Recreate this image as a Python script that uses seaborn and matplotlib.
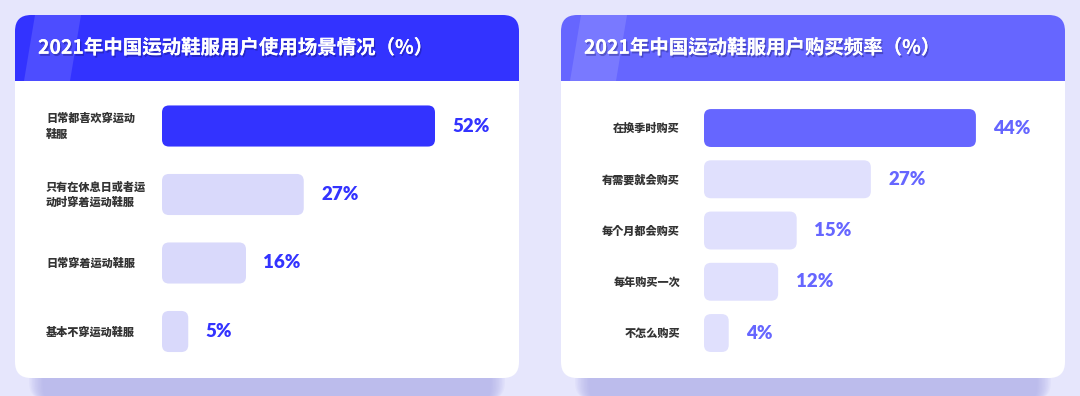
import matplotlib
matplotlib.use("Agg")
import matplotlib.pyplot as plt
import matplotlib.patheffects as pe
from matplotlib.patches import FancyBboxPatch, Rectangle, Polygon
from matplotlib.transforms import IdentityTransform
import seaborn as sns
import pandas as pd

# ---------------- data ----------------
title_left = "2021年中国运动鞋服用户使用场景情况（%）"
cats_left = ["日常都喜欢穿运动\n鞋服", "只有在休息日或者运\n动时穿着运动鞋服", "日常穿着运动鞋服", "基本不穿运动鞋服"]
vals_left = [52, 27, 16, 5]

title_right = "2021年中国运动鞋服用户购买频率（%）"
cats_right = ["在换季时购买", "有需要就会购买", "每个月都会购买", "每年购买一次", "不怎么购买"]
vals_right = [44, 27, 15, 12, 4]

# ---------------- style ----------------
sns.set_theme(style="white")
plt.rcParams['font.family'] = ['Noto Sans CJK JP', 'DejaVu Sans']
CJK = ['Noto Sans CJK JP', 'DejaVu Sans']
NUM = ['Lato', 'DejaVu Sans']

BG = "#E6E6FC"
HEAD_L, HEAD_R = "#3333FF", "#6666FF"
LIGHT_L, LIGHT_R = "#D9D9FB", "#E0E0FD"
TEXT = "#333333"

W, H = 1080, 396
fig = plt.figure(figsize=(W / 100, H / 100), dpi=100)
fig.patch.set_facecolor(BG)

bg = fig.add_axes([0, 0, 1, 1], zorder=0)
bg.set_xlim(0, W)
bg.set_ylim(H, 0)
bg.axis("off")


def card(x0, x1, y0, y1, yh, head_color):
    # soft shadow
    for i in range(10):
        bg.add_patch(FancyBboxPatch((x0 + 14 + i * 1.5, y0 + 14 + i), (x1 - x0) - 28 - 3 * i, (y1 - y0) + 8 - i * 0.5,
                                    boxstyle="round,pad=0,rounding_size=18",
                                    fc="#A8A8E6", ec="none", alpha=0.09, zorder=0.5))
    bg.add_patch(FancyBboxPatch((x0, y0), x1 - x0, y1 - y0, boxstyle="round,pad=0,rounding_size=16",
                                fc="white", ec="none", zorder=1))
    bg.add_patch(FancyBboxPatch((x0, y0), x1 - x0, (yh - y0) + 20, boxstyle="round,pad=0,rounding_size=16",
                                fc=head_color, ec="none", zorder=1.1))
    bg.add_patch(Rectangle((x0, yh), x1 - x0, 30, fc="white", ec="none", zorder=1.2))
    # glossy stripe
    bg.add_patch(Polygon([[x0 + 20, y0], [x0 + 66, y0], [x0 + 55, yh], [x0 + 9, yh]],
                         closed=True, fc="white", ec="none", alpha=0.13, zorder=1.15))


card(15, 519, 15, 378, 81, HEAD_L)
card(561, 1065, 15, 378, 81, HEAD_R)

shadow = [pe.withSimplePatchShadow(offset=(1, -1.5), shadow_rgbFace="#101060", alpha=0.35), pe.Normal()]
bg.text(38, 48, title_left, color="white", fontsize=14, fontweight=700, va="center", ha="left",
        zorder=3, path_effects=shadow, family=CJK)
bg.text(584, 48, title_right, color="white", fontsize=14, fontweight=700, va="center", ha="left",
        zorder=3, path_effects=shadow, family=CJK)


def px_axes(x0, y_top, width, height):
    return fig.add_axes([x0 / W, 1 - (y_top + height) / H, width / W, height / H], zorder=2)


def panel(ax, cats, vals, strong, light, xmax, bar_w, label_x, label_ha, val_color):
    df = pd.DataFrame({"cat": cats, "val": vals})
    colors = [strong] + [light] * (len(cats) - 1)
    sns.barplot(data=df, x="val", y="cat", hue="cat", palette=colors, legend=False,
                orient="h", width=bar_w, ax=ax, saturation=1)
    ax.set_xlim(0, xmax)
    ax.set_ylim(len(cats) - 0.5, -0.5)
    ax.axis("off")
    ax.patch.set_alpha(0)
    # replace bars by rounded versions (same geometry)
    for p in list(ax.patches):
        bb = p.get_window_extent()
        fc = p.get_facecolor()
        p.set_visible(False)
        ax.add_patch(FancyBboxPatch((bb.x0, bb.y0), bb.width, bb.height,
                                    boxstyle="round,pad=0,rounding_size=7",
                                    fc=fc, ec="none", transform=IdentityTransform(), clip_on=False))
    for i, (c, v) in enumerate(zip(cats, vals)):
        ax.annotate(f"{v}%", xy=(v, i), xytext=(12.5, 0), textcoords="offset points",
                    ha="left", va="center", fontsize=13.5, fontweight=800, color=val_color,
                    family=NUM, annotation_clip=False)
        ax.annotate(c, xy=(label_x, i), xycoords=("figure pixels", "data"),
                    ha=label_ha, va="center", fontsize=8, fontweight=900, color=TEXT,
                    linespacing=1.35, annotation_clip=False, family=CJK)


# left panel: 0 at x=162px, 5.25 px per unit; rows 126..331px
axL = px_axes(162, 91.75, 60 * 5.25, 274)
panel(axL, cats_left, vals_left, HEAD_L, LIGHT_L, 60, 0.6, 46, "left", HEAD_L)

# right panel: 0 at x=704px, 6.18 px per unit; rows 128..333px
axR = px_axes(704, 102.4, 55 * 6.18, 256.25)
panel(axR, cats_right, vals_right, HEAD_R, LIGHT_R, 55, 0.74, 680, "right", HEAD_R)

fig.savefig("out.png", dpi=100, facecolor=BG)
